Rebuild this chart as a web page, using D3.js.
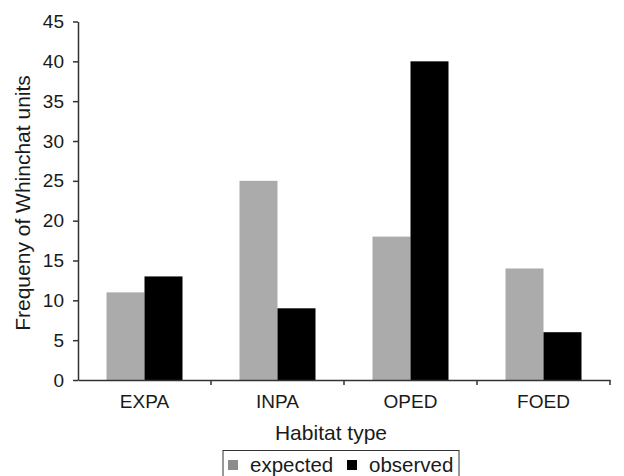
<!DOCTYPE html>
<html><head><meta charset="utf-8">
<script src="https://cdn.jsdelivr.net/npm/d3@7"></script>
<style>
html,body{margin:0;padding:0;background:#fff;}
svg text{font-family:"Liberation Sans",Arial,sans-serif;fill:#1a1a1a;}
</style></head>
<body>
<svg id="chart" width="624" height="476"></svg>
<script>
const categories = ["EXPA", "INPA", "OPED", "FOED"];
const series = ["expected", "observed"];
const expectedValues = [11, 25, 18, 14];
const observedValues = [13, 9, 40, 6];
const yTicks = [0, 5, 10, 15, 20, 25, 30, 35, 40, 45];
const colors = ["#ababab", "#000000"];

(function () {
const svg = d3.select("#chart");
const mLeft = 78, mRight = 610, mTop = 21.5, mBottom = 380;

const x0 = d3.scaleBand().domain(categories).range([mLeft, mRight]).padding(0);
const x1 = d3.scaleBand().domain(series).range([0, x0.bandwidth()]).paddingInner(0).paddingOuter(0.75);
const y = d3.scaleLinear().domain([0, 45]).range([mBottom, mTop]);
const color = d3.scaleOrdinal().domain(series).range(colors);

const data = categories.map((c, i) => ({cat: c, values: [
  {s: "expected", v: expectedValues[i]},
  {s: "observed", v: observedValues[i]}
]}));

// bars
const g = svg.append("g");
g.selectAll("g.cat").data(data).join("g")
  .attr("transform", d => `translate(${x0(d.cat)},0)`)
  .selectAll("rect").data(d => d.values).join("rect")
  .attr("x", d => x1(d.s))
  .attr("width", x1.bandwidth())
  .attr("y", d => y(d.v))
  .attr("height", d => y(0) - y(d.v))
  .attr("fill", d => color(d.s));

// y axis
const yAxis = svg.append("g").attr("transform", `translate(${mLeft},0)`)
  .call(d3.axisLeft(y).tickValues(yTicks).tickSize(5).tickPadding(9).tickSizeOuter(0));
yAxis.select(".domain").attr("stroke", "#333").attr("stroke-width", 1.5);
yAxis.selectAll(".tick line").attr("stroke", "#333").attr("stroke-width", 1.5);
yAxis.selectAll("text").attr("font-size", 19).attr("fill", "#1a1a1a");

// x axis
const xAxis = svg.append("g").attr("transform", `translate(0,${mBottom})`)
  .call(d3.axisBottom(x0).tickSize(0).tickPadding(15));
xAxis.select(".domain").attr("stroke", "#333").attr("stroke-width", 1.5);
xAxis.selectAll("text").attr("font-size", 19).attr("fill", "#1a1a1a");
const bounds = categories.map(c => x0(c) + x0.bandwidth());
xAxis.selectAll("line.bt").data(bounds).join("line").attr("class", "bt")
  .attr("x1", d => d).attr("x2", d => d).attr("y1", 0).attr("y2", 5)
  .attr("stroke", "#333").attr("stroke-width", 1.5);

// axis titles
svg.append("text").attr("x", 331).attr("y", 440).attr("text-anchor", "middle")
  .attr("font-size", 21).text("Habitat type");
svg.append("text").attr("transform", "translate(30,203) rotate(-90)")
  .attr("text-anchor", "middle").attr("font-size", 21).text("Frequeny of Whinchat units");

// legend
const lg = svg.append("g");
lg.append("rect").attr("x", 223).attr("y", 450.5).attr("width", 236).attr("height", 30)
  .attr("fill", "#fff").attr("stroke", "#333").attr("stroke-width", 1);
const items = [{s: "expected", x: 228}, {s: "observed", x: 347}];
items.forEach(it => {
  lg.append("rect").attr("x", it.x).attr("y", 460).attr("width", 10).attr("height", 10)
    .attr("fill", it.s === "expected" ? "#8c8c8c" : color(it.s));
  lg.append("text").attr("x", it.x + 22).attr("y", 472).attr("font-size", 20.5).text(it.s);
});
})();
</script>
</body></html>
